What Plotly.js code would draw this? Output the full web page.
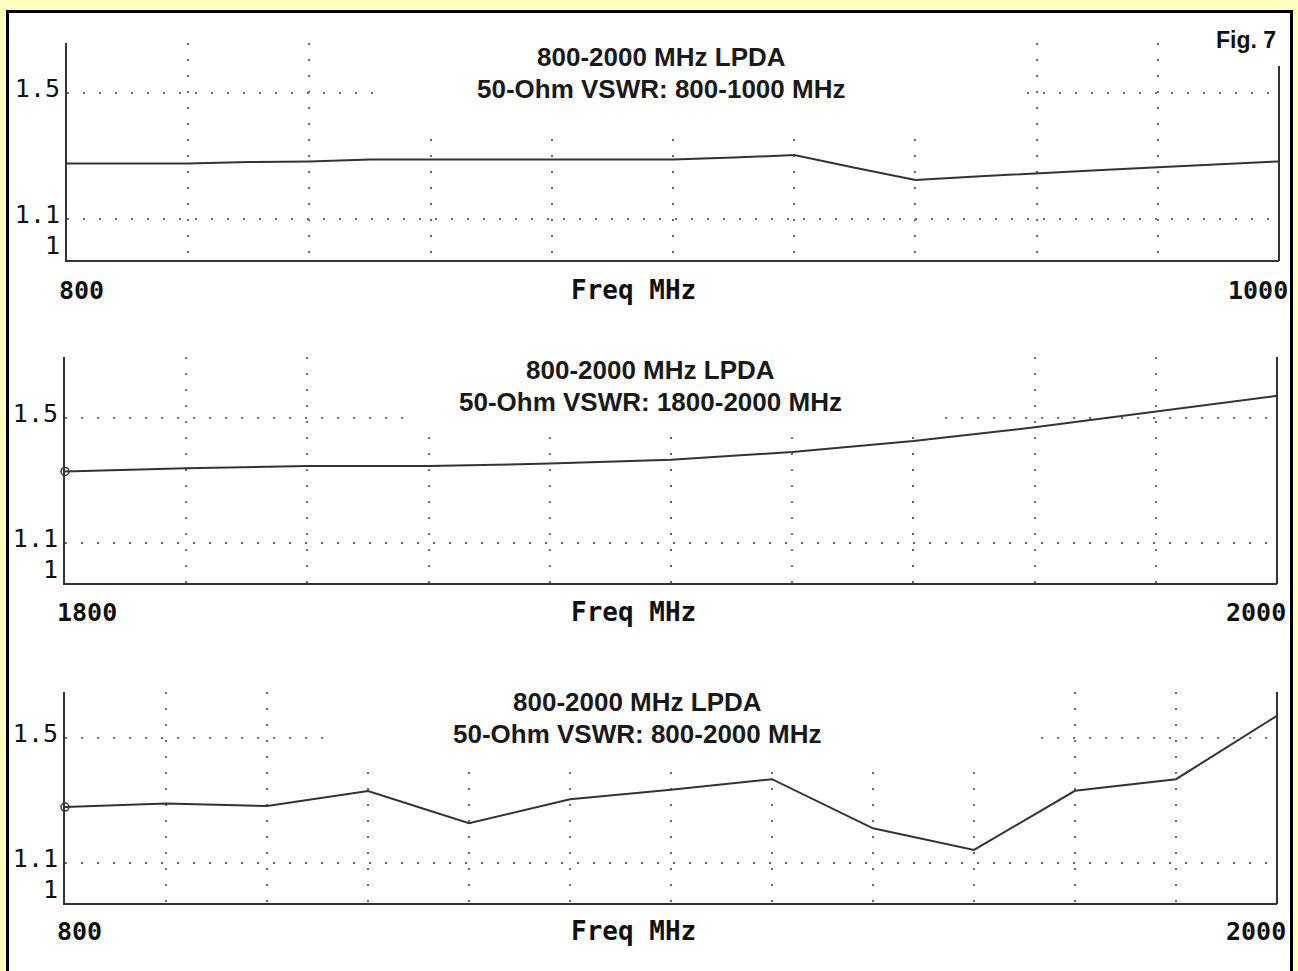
<!DOCTYPE html>
<html>
<head>
<meta charset="utf-8">
<script src="https://cdn.plot.ly/plotly-3.0.1.min.js"></script>
<style>
html,body{margin:0;padding:0;background:#FFFFC0;overflow:hidden}
#chart{width:1298px;height:971px}
</style>
</head>
<body>
<div id="chart"></div>
<script>
// ---------------- data ----------------
const figLabel = "Fig. 7";
const titleLine1 = "800-2000 MHz LPDA";
const p1Sub = "50-Ohm VSWR: 800-1000 MHz";
const p2Sub = "50-Ohm VSWR: 1800-2000 MHz";
const p3Sub = "50-Ohm VSWR: 800-2000 MHz";
const xAxisLabel = "Freq MHz";

const yTickVals = [1, 1.1, 1.5];
const yTickText = ["1", "1.1", "1.5"];
const yGridVals = [1.1, 1.5];

// Panel 1: 800-1000 MHz
const p1Freq = [800, 810, 820, 830, 840, 850, 860, 870, 880, 890, 900, 910, 920, 930, 940, 950, 960, 970, 980, 990, 1000];
const p1Vswr = [1.276, 1.276, 1.276, 1.281, 1.283, 1.289, 1.289, 1.289, 1.289, 1.289, 1.289, 1.295, 1.303, 1.263, 1.224, 1.235, 1.246, 1.255, 1.264, 1.273, 1.283];
const p1Grid = [820, 840, 860, 880, 900, 920, 940, 960, 980];
const p1Ends = ["800", "1000"];

// Panel 2: 1800-2000 MHz
const p2Freq = [1800, 1820, 1840, 1860, 1880, 1900, 1920, 1940, 1960, 1980, 2000];
const p2Vswr = [1.329, 1.339, 1.346, 1.346, 1.354, 1.366, 1.391, 1.426, 1.470, 1.521, 1.571];
const p2Grid = [1820, 1840, 1860, 1880, 1900, 1920, 1940, 1960, 1980];
const p2Ends = ["1800", "2000"];

// Panel 3: 800-2000 MHz
const p3Freq = [800, 900, 1000, 1100, 1200, 1300, 1400, 1500, 1600, 1700, 1800, 1900, 2000];
const p3Vswr = [1.279, 1.290, 1.282, 1.330, 1.227, 1.304, 1.334, 1.368, 1.211, 1.142, 1.331, 1.368, 1.571];
const p3Grid = [900, 1000, 1100, 1200, 1300, 1400, 1500, 1600, 1700, 1800, 1900];
const p3Ends = ["800", "2000"];

// ---------------- layout helpers ----------------
const W = 1298, H = 971;
const px = v => v / W;
const py = v => 1 - v / H;

const INK = '#333';
const GRID = '#6a6a6a';
const DOT = '2px,14px';
const MONO = 'DejaVu Sans Mono, Liberation Mono, monospace';
const SANS = 'Liberation Sans, Arial, sans-serif';

const panels = [
  {freq: p1Freq, vswr: p1Vswr, grid: p1Grid, ends: p1Ends, sub: p1Sub,
   left: 67, right: 1279, top: 43, bottom: 260, rightTop: 66, yr: [0.969, 1.660],
   tx: 661, t1: 57, t2: 89, labY: 290, box: [377, 1017, 43, 133], marker: false},
  {freq: p2Freq, vswr: p2Vswr, grid: p2Grid, ends: p2Ends, sub: p2Sub,
   left: 65, right: 1277, top: 357, bottom: 583, rightTop: 357, yr: [0.972, 1.695],
   tx: 650, t1: 370, t2: 402, labY: 612, box: [407, 932, 357, 426], marker: true},
  {freq: p3Freq, vswr: p3Vswr, grid: p3Grid, ends: p3Ends, sub: p3Sub,
   left: 65, right: 1277, top: 692, bottom: 903, rightTop: 692, yr: [0.972, 1.647],
   tx: 637, t1: 702, t2: 734, labY: 931, box: [328, 1028, 692, 764], marker: true}
];

const data = [];
const layout = {
  width: W, height: H, autosize: false,
  margin: {l: 0, r: 0, t: 0, b: 0, pad: 0},
  paper_bgcolor: '#FFFFC0',
  plot_bgcolor: 'rgba(0,0,0,0)',
  showlegend: false,
  shapes: [],
  annotations: []
};

// outer frame
layout.shapes.push({type: 'rect', xref: 'paper', yref: 'paper', layer: 'below',
  x0: px(7.5), x1: px(1291.5), y0: py(11.5), y1: -0.05,
  fillcolor: '#ffffff', line: {color: '#000', width: 3}});

panels.forEach((p, i) => {
  const n = i + 1;
  const xa = n === 1 ? 'x' : 'x' + n;
  const ya = n === 1 ? 'y' : 'y' + n;
  const gy = 'y' + (n + 3);
  const xKey = n === 1 ? 'xaxis' : 'xaxis' + n;
  const yKey = n === 1 ? 'yaxis' : 'yaxis' + n;
  const gKey = 'yaxis' + (n + 3);
  const xr = [p.freq[0], p.freq[p.freq.length - 1]];

  layout[xKey] = {
    domain: [px(p.left), px(p.right)], range: xr, anchor: ya,
    tickmode: 'array', tickvals: p.grid, showticklabels: false, ticks: '',
    showgrid: true, gridcolor: GRID, gridwidth: 2, griddash: DOT,
    showline: true, linecolor: INK, linewidth: 2, zeroline: false, fixedrange: true
  };
  layout[yKey] = {
    domain: [py(p.bottom), py(p.top)], range: p.yr, anchor: xa,
    tickmode: 'array', tickvals: yTickVals, ticktext: yTickText, ticks: '',
    showgrid: false, showline: true, linecolor: INK, linewidth: 2, zeroline: false,
    tickfont: {family: MONO, size: 25, color: '#111'},
    ticklabelstandoff: 0, ticklabelshift: -5, fixedrange: true
  };
  layout[gKey] = {
    overlaying: ya, anchor: xa, range: p.yr,
    tickmode: 'array', tickvals: yGridVals, showticklabels: false, ticks: '',
    showgrid: true, gridcolor: GRID, gridwidth: 2, griddash: DOT,
    showline: false, zeroline: false, fixedrange: true
  };

  // curve
  data.push({x: p.freq, y: p.vswr, xaxis: xa, yaxis: ya, type: 'scatter', mode: 'lines',
    line: {color: INK, width: 2}, hoverinfo: 'skip'});
  if (p.marker) {
    data.push({x: [p.freq[0]], y: [p.vswr[0]], xaxis: xa, yaxis: ya, type: 'scatter', mode: 'markers',
      cliponaxis: false, marker: {symbol: 'circle-open', size: 8, color: INK, line: {width: 1.5, color: INK}},
      hoverinfo: 'skip'});
  }
  // dummy trace to activate overlay grid axis
  data.push({x: [xr[0]], y: [p.yr[0]], xaxis: xa, yaxis: gy, type: 'scatter', mode: 'markers',
    marker: {size: 0.1, opacity: 0}, hoverinfo: 'skip'});

  // white box clearing grid behind title
  layout.shapes.push({type: 'rect', xref: 'paper', yref: 'paper', layer: 'above',
    x0: px(p.box[0]), x1: px(p.box[1]), y0: py(p.box[3]), y1: py(p.box[2] - 2),
    fillcolor: '#ffffff', line: {width: 0}});
  // right axis line
  layout.shapes.push({type: 'line', xref: 'paper', yref: 'paper', layer: 'above',
    x0: px(p.right), x1: px(p.right), y0: py(p.bottom + 1), y1: py(p.rightTop),
    line: {color: INK, width: 2}});

  // titles
  layout.annotations.push({xref: 'paper', yref: 'paper', x: px(p.tx), y: py(p.t1),
    xanchor: 'center', yanchor: 'middle', showarrow: false, text: '<b>' + titleLine1 + '</b>',
    font: {family: SANS, size: 26, color: '#1a1a1a'}});
  layout.annotations.push({xref: 'paper', yref: 'paper', x: px(p.tx), y: py(p.t2),
    xanchor: 'center', yanchor: 'middle', showarrow: false, text: '<b>' + p.sub + '</b>',
    font: {family: SANS, size: 26, color: '#1a1a1a'}});
  // x label
  layout.annotations.push({xref: 'paper', yref: 'paper', x: px(633), y: py(p.labY),
    xanchor: 'center', yanchor: 'middle', showarrow: false, text: '<b>' + xAxisLabel + '</b>',
    font: {family: MONO, size: 26, color: '#111'}});
  // x end labels
  layout.annotations.push({xref: xa, yref: 'paper', x: xr[0], xshift: -10, y: py(p.labY),
    xanchor: 'left', yanchor: 'middle', showarrow: false, text: '<b>' + p.ends[0] + '</b>',
    font: {family: MONO, size: 25, color: '#111'}});
  layout.annotations.push({xref: xa, yref: 'paper', x: xr[1], xshift: 11, y: py(p.labY),
    xanchor: 'right', yanchor: 'middle', showarrow: false, text: '<b>' + p.ends[1] + '</b>',
    font: {family: MONO, size: 25, color: '#111'}});
});

layout.annotations.push({xref: 'paper', yref: 'paper', x: px(1278), y: py(40),
  xanchor: 'right', yanchor: 'middle', showarrow: false, text: '<b>' + figLabel + '</b>',
  font: {family: SANS, size: 23, color: '#111'}});

Plotly.newPlot('chart', data, layout, {staticPlot: true, displayModeBar: false});
</script>
</body>
</html>
